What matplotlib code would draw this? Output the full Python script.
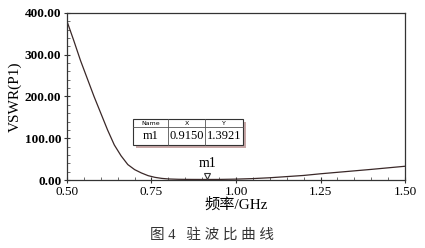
import matplotlib
matplotlib.use("Agg")
import matplotlib.pyplot as plt
import matplotlib.transforms as mtransforms
from matplotlib.ticker import MultipleLocator, FormatStrFormatter
from matplotlib.patches import Rectangle

freq = [0.50, 0.52, 0.54, 0.56, 0.58, 0.60, 0.62, 0.64, 0.66, 0.68, 0.70, 0.72,
        0.74, 0.76, 0.78, 0.80, 0.83, 0.87, 0.915, 0.95, 1.00, 1.05, 1.10, 1.20,
        1.25, 1.30, 1.40, 1.50]
vswr = [380, 334, 286, 243, 200, 160, 120, 84, 58, 37, 25, 17,
        10.5, 6.5, 4.0, 2.6, 1.8, 1.5, 1.39, 1.5, 2.2, 3.5, 5.5, 11,
        15, 18.5, 25.5, 33]
marker_name = "m1"
marker_x = 0.9150
marker_y = 1.3921
table_cols = ["Name", "X", "Y"]
x_label = "频率/GHz"
y_label = "VSWR(P1)"
caption = "图 4   驻 波 比 曲 线"

serif = ['Liberation Serif', 'Noto Sans CJK SC']
plt.rcParams['font.family'] = serif

fig = plt.figure(figsize=(4.25, 2.48), dpi=100)
ax = fig.add_axes([0.1576, 0.274, 0.7954, 0.674])

ax.plot(freq, vswr, color='#3a2828', lw=0.9)
ax.set_xlim(0.5, 1.5)
ax.set_ylim(0, 400)
ax.xaxis.set_major_locator(MultipleLocator(0.25))
ax.xaxis.set_minor_locator(MultipleLocator(0.05))
ax.yaxis.set_major_locator(MultipleLocator(100))
ax.yaxis.set_minor_locator(MultipleLocator(20))
ax.xaxis.set_major_formatter(FormatStrFormatter('%.2f'))
ax.yaxis.set_major_formatter(FormatStrFormatter('%.2f'))
ax.tick_params(axis='both', which='major', direction='inout', length=5, width=0.8,
               labelsize=9.5, pad=1.5, color='#333333')
ax.tick_params(axis='both', which='minor', direction='in', length=2.5, width=0.6, color='#555555')
for lab in ax.get_yticklabels():
    lab.set_fontweight('bold')
for s in ax.spines.values():
    s.set_color('#333333')
    s.set_linewidth(0.9)

ax.set_xlabel(x_label, fontsize=11, labelpad=0)
ax.set_ylabel(y_label, fontsize=11, labelpad=2)

# marker (drawn just above the curve point)
mtrans = mtransforms.offset_copy(ax.transData, fig=fig, x=0, y=3.5, units='dots')
ax.plot([marker_x], [marker_y], marker='v', markersize=5, mfc='white', mec='#333333',
        mew=0.8, transform=mtrans, linestyle='none', clip_on=False, zorder=5)
ax.annotate(marker_name, xy=(marker_x, marker_y), xytext=(0, 6.5), textcoords='offset points',
            ha='center', va='bottom', fontsize=10)

# marker table
x0, x1 = 0.195, 0.521
ytop, yh, ybot = 0.365, 0.317, 0.21
colx = [0.195, 0.299, 0.408, 0.521]
ax.add_patch(Rectangle((x0 + 0.008, ybot - 0.02), x1 - x0, ytop - ybot, transform=ax.transAxes,
                       facecolor='#c8a8a8', edgecolor='none', zorder=4))
ax.add_patch(Rectangle((x0, ybot), x1 - x0, ytop - ybot, transform=ax.transAxes,
                       facecolor='white', edgecolor='#333333', lw=0.8, zorder=5))
ax.plot([x0, x1], [yh, yh], transform=ax.transAxes, color='#555555', lw=0.6, zorder=6)
for cx in colx[1:-1]:
    ax.plot([cx, cx], [ybot, ytop], transform=ax.transAxes, color='#555555', lw=0.6, zorder=6)
vals = [marker_name, f"{marker_x:.4f}", f"{marker_y:.4f}"]
for i in range(3):
    cx = (colx[i] + colx[i + 1]) / 2
    ax.text(cx, (ytop + yh) / 2, table_cols[i], transform=ax.transAxes, ha='center',
            va='center', fontsize=4.5, family='DejaVu Sans', zorder=7)
    ax.text(cx, (yh + ybot) / 2, vals[i], transform=ax.transAxes, ha='center',
            va='center', fontsize=9, zorder=7)

fig.text(0.5, 0.052, caption, ha='center', va='center', fontsize=10.5, color='#333333')

fig.savefig('out.png', dpi=100)
